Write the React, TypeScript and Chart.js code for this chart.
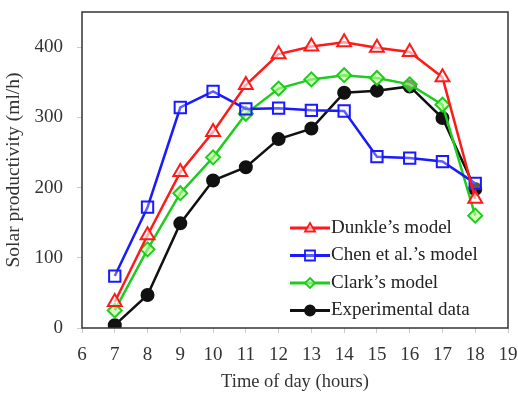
import React, { useEffect, useRef } from "react";
import { Chart, registerables } from "chart.js";

Chart.register(...registerables);

const hours = [7, 8, 9, 10, 11, 12, 13, 14, 15, 16, 17, 18];
const dunkle = [37, 132, 222, 279, 346, 390, 401, 407, 399, 393, 357, 184];
const chen = [74, 172, 314, 337, 312, 313, 310, 309, 244, 242, 237, 206];
const clark = [25, 112, 192, 243, 305, 341, 354, 360, 356, 347, 318, 160];
const experimental = [4, 47, 149, 210, 229, 269, 284, 335, 338, 344, 299, 198];
const seriesLabels = ["Dunkle\u2019s model", "Chen et al.\u2019s model", "Clark\u2019s model", "Experimental data"];
const xTitle = "Time of day (hours)";
const yTitle = "Solar productivity (ml/h)";

const FONT = "'Liberation Serif', 'Times New Roman', serif";

const frame = {
  id: "frame",
  afterDraw(chart: any) {
    const { ctx, chartArea: a } = chart;
    ctx.save();
    ctx.strokeStyle = "#333";
    ctx.lineWidth = 1.5;
    ctx.strokeRect(a.left, a.top, a.right - a.left, a.bottom - a.top);
    ctx.restore();
  },
};

const legendPlugin = {
  id: "customLegend",
  afterDraw(chart: any) {
    const { ctx } = chart;
    const x0 = 290, x1 = 330, yStart = 228, step = 27.5;
    chart.data.datasets.forEach((ds: any, i: number) => {
      const y = yStart + i * step;
      ctx.save();
      ctx.strokeStyle = ds.borderColor;
      ctx.lineWidth = 3;
      ctx.beginPath();
      ctx.moveTo(x0, y);
      ctx.lineTo(x1, y);
      ctx.stroke();
      const cx = (x0 + x1) / 2;
      ctx.lineWidth = 1.8;
      ctx.fillStyle = ds.pointBackgroundColor;
      ctx.strokeStyle = ds.borderColor;
      const r = 5;
      ctx.beginPath();
      if (ds.pointStyle === "triangle") {
        ctx.moveTo(cx, y - r);
        ctx.lineTo(cx + r, y + r * 0.7);
        ctx.lineTo(cx - r, y + r * 0.7);
        ctx.closePath();
      } else if (ds.pointStyle === "rect") {
        ctx.rect(cx - r, y - r, 2 * r, 2 * r);
      } else if (ds.pointStyle === "rectRot") {
        ctx.moveTo(cx, y - r);
        ctx.lineTo(cx + r, y);
        ctx.lineTo(cx, y + r);
        ctx.lineTo(cx - r, y);
        ctx.closePath();
      } else {
        ctx.arc(cx, y, r, 0, Math.PI * 2);
      }
      ctx.fill();
      ctx.stroke();
      ctx.fillStyle = "#222";
      ctx.font = `19px ${FONT}`;
      ctx.textBaseline = "middle";
      ctx.textAlign = "left";
      ctx.fillText(ds.label, x1 + 1, y);
      ctx.restore();
    });
  },
};

export default function App() {
  const ref = useRef<HTMLCanvasElement>(null);
  useEffect(() => {
    if (!ref.current) return;
    const mk = (label: string, data: number[], color: string, style: string, bg: string, r: number) => ({
      label,
      data: hours.map((h, i) => ({ x: h, y: data[i] })),
      borderColor: color,
      backgroundColor: color,
      pointBackgroundColor: bg,
      pointBorderColor: color,
      pointStyle: style,
      pointRadius: r,
      pointBorderWidth: 2,
      borderWidth: 2.5,
      tension: 0,
    });
    const chart = new Chart(ref.current, {
      type: "line",
      data: {
        datasets: [
          mk(seriesLabels[0], dunkle, "#ff1a1a", "triangle", "rgba(255,255,255,0.6)", 8),
          mk(seriesLabels[1], chen, "#1a1aff", "rect", "rgba(255,255,255,0.3)", 8),
          mk(seriesLabels[2], clark, "#1ecc1e", "rectRot", "rgba(190,255,150,0.6)", 7),
          mk(seriesLabels[3], experimental, "#111111", "circle", "#111111", 6),
        ] as any,
      },
      options: {
        animation: false,
        responsive: false,
        layout: { padding: { top: 12, right: 8, left: 0, bottom: 0 } },
        plugins: { legend: { display: false }, tooltip: { enabled: false } },
        scales: {
          x: {
            type: "linear",
            min: 6,
            max: 19,
            ticks: { stepSize: 1, color: "#333", font: { family: FONT, size: 19 }, padding: 11 },
            grid: { drawOnChartArea: false, tickLength: 5, color: "#ccc" },
            border: { display: false },
            title: { display: true, text: xTitle, color: "#333", font: { family: FONT, size: 18.5 }, padding: { top: 0, bottom: 1 } },
            afterFit: (s: any) => {
              s.height = 66;
              s.paddingLeft = 0;
              s.paddingRight = 0;
            },
          },
          y: {
            type: "linear",
            min: 0,
            max: 450,
            ticks: { stepSize: 100, includeBounds: false, color: "#333", font: { family: FONT, size: 19 }, padding: 14 },
            grid: { drawOnChartArea: false, tickLength: 5, color: "#ccc" },
            border: { display: false },
            title: { display: true, text: yTitle, color: "#333", font: { family: FONT, size: 19.5 }, padding: { top: 2, bottom: 4 } },
            afterFit: (s: any) => {
              s.width = 82;
              s.paddingTop = 0;
              s.paddingBottom = 0;
            },
          },
        },
      },
      plugins: [frame, legendPlugin],
    });
    return () => chart.destroy();
  }, []);
  return (
    <div style={{ position: "fixed", left: 0, top: 0, width: 518, height: 394, background: "#fff" }}>
      <canvas ref={ref} width={518} height={394} style={{ width: 518, height: 394 }} />
    </div>
  );
}
